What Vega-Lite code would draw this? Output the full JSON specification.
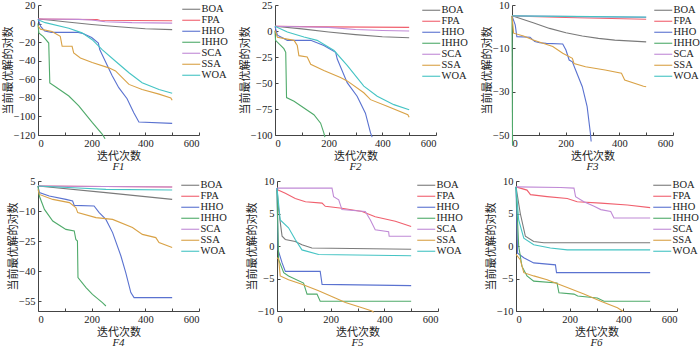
{
  "$schema": "https://vega.github.io/schema/vega-lite/v6.json",
  "padding": {"left": 2, "top": 0, "right": 0, "bottom": 0},
  "background": "white",
  "spacing": 4,
  "resolve": {"scale": {"color": "independent"}, "legend": {"color": "independent"}},
  "config": {
    "view": {"stroke": null},
    "axis": {"grid": false, "labelFont": "Liberation Serif", "labelFontSize": 10.5, "labelColor": "#222", "titleFont": "Noto Sans CJK SC", "titleFontSize": 11, "titleFontWeight": "normal", "titleColor": "#222", "domainColor": "#444", "tickColor": "#444", "tickSize": -3, "labelPadding": 6, "titlePadding": 2},
    "axisY": {"titlePadding": 0},
    "axisX": {"labelExpr": "datum.value % 200 == 0 ? datum.label : ''"},
    "legend": {"labelFont": "Liberation Serif", "labelFontSize": 10.5, "labelColor": "#222", "symbolType": "M-2.25,0H2.25", "symbolSize": 64, "symbolStrokeWidth": 1.3, "rowPadding": -2.6, "labelOffset": 5, "padding": 0, "title": null},
    "line": {"strokeWidth": 1.1, "clip": true},
    "title": {"font": "Liberation Serif", "fontStyle": "italic", "fontSize": 11, "fontWeight": "normal", "color": "#222", "orient": "bottom", "offset": -1}
  },
  "datasets": {
    "F1": [
      {"a":"BOA","x":0,"y":5},{"a":"BOA","x":50,"y":3.5},{"a":"BOA","x":100,"y":2},{"a":"BOA","x":200,"y":-1},{"a":"BOA","x":300,"y":-3.5},{"a":"BOA","x":400,"y":-5.5},{"a":"BOA","x":500,"y":-6.5},
      {"a":"FPA","x":0,"y":5},{"a":"FPA","x":100,"y":4.6},{"a":"FPA","x":220,"y":4.2},{"a":"FPA","x":230,"y":3.5},{"a":"FPA","x":500,"y":3},
      {"a":"SCA","x":0,"y":5},{"a":"SCA","x":150,"y":4.5},{"a":"SCA","x":200,"y":3.8},{"a":"SCA","x":250,"y":2},{"a":"SCA","x":350,"y":1},{"a":"SCA","x":500,"y":0.5},
      {"a":"HHO","x":0,"y":5},{"a":"HHO","x":10,"y":-3},{"a":"HHO","x":25,"y":-8},{"a":"HHO","x":50,"y":-9.5},{"a":"HHO","x":150,"y":-9.5},{"a":"HHO","x":170,"y":-11},{"a":"HHO","x":200,"y":-15},{"a":"HHO","x":225,"y":-21},{"a":"HHO","x":230,"y":-28},{"a":"HHO","x":276,"y":-56},{"a":"HHO","x":301,"y":-69},{"a":"HHO","x":332,"y":-81},{"a":"HHO","x":357,"y":-96},{"a":"HHO","x":376,"y":-106},{"a":"HHO","x":500,"y":-107.5},
      {"a":"IHHO","x":0,"y":0},{"a":"IHHO","x":3,"y":-10},{"a":"IHHO","x":20,"y":-14},{"a":"IHHO","x":40,"y":-21},{"a":"IHHO","x":44,"y":-64},{"a":"IHHO","x":65,"y":-68},{"a":"IHHO","x":115,"y":-78},{"a":"IHHO","x":152,"y":-88.6},{"a":"IHHO","x":177,"y":-97.6},{"a":"IHHO","x":202,"y":-106.5},{"a":"IHHO","x":239,"y":-119},{"a":"IHHO","x":250,"y":-124},
      {"a":"SSA","x":0,"y":-2.4},{"a":"SSA","x":9,"y":-6},{"a":"SSA","x":52,"y":-8.5},{"a":"SSA","x":83,"y":-13.8},{"a":"SSA","x":90,"y":-24.5},{"a":"SSA","x":127,"y":-24.5},{"a":"SSA","x":133,"y":-31.6},{"a":"SSA","x":158,"y":-37},{"a":"SSA","x":202,"y":-42},{"a":"SSA","x":264,"y":-47.7},{"a":"SSA","x":289,"y":-51},{"a":"SSA","x":339,"y":-65.5},{"a":"SSA","x":388,"y":-71},{"a":"SSA","x":451,"y":-76},{"a":"SSA","x":495,"y":-80},{"a":"SSA","x":500,"y":-82.5},
      {"a":"WOA","x":0,"y":4},{"a":"WOA","x":27,"y":1},{"a":"WOA","x":115,"y":-5},{"a":"WOA","x":164,"y":-10},{"a":"WOA","x":202,"y":-17.4},{"a":"WOA","x":239,"y":-28},{"a":"WOA","x":289,"y":-40.6},{"a":"WOA","x":339,"y":-53},{"a":"WOA","x":388,"y":-63.7},{"a":"WOA","x":451,"y":-71},{"a":"WOA","x":500,"y":-75}
    ],
    "F2": [
      {"a":"BOA","x":0,"y":4.5},{"a":"BOA","x":100,"y":2},{"a":"BOA","x":200,"y":-1},{"a":"BOA","x":300,"y":-3.5},{"a":"BOA","x":400,"y":-5.5},{"a":"BOA","x":500,"y":-6.5},
      {"a":"FPA","x":0,"y":4.5},{"a":"FPA","x":200,"y":4},{"a":"FPA","x":500,"y":3.5},
      {"a":"SCA","x":0,"y":4.5},{"a":"SCA","x":200,"y":3.5},{"a":"SCA","x":300,"y":1.5},{"a":"SCA","x":400,"y":0.5},{"a":"SCA","x":500,"y":0},
      {"a":"HHO","x":0,"y":4.5},{"a":"HHO","x":9,"y":-4},{"a":"HHO","x":46,"y":-9},{"a":"HHO","x":133,"y":-9},{"a":"HHO","x":182,"y":-14},{"a":"HHO","x":226,"y":-20.5},{"a":"HHO","x":232,"y":-27},{"a":"HHO","x":269,"y":-49.7},{"a":"HHO","x":306,"y":-62.7},{"a":"HHO","x":337,"y":-79},{"a":"HHO","x":356,"y":-98},{"a":"HHO","x":362,"y":-102},
      {"a":"IHHO","x":0,"y":0},{"a":"IHHO","x":2,"y":-9},{"a":"IHHO","x":33,"y":-17},{"a":"IHHO","x":40,"y":-20.5},{"a":"IHHO","x":43,"y":-64},{"a":"IHHO","x":71,"y":-67.5},{"a":"IHHO","x":108,"y":-74},{"a":"IHHO","x":145,"y":-80.5},{"a":"IHHO","x":170,"y":-88.6},{"a":"IHHO","x":182,"y":-98},{"a":"IHHO","x":186,"y":-102},
      {"a":"SSA","x":0,"y":0.6},{"a":"SSA","x":9,"y":-6},{"a":"SSA","x":71,"y":-9},{"a":"SSA","x":83,"y":-14},{"a":"SSA","x":89,"y":-23.7},{"a":"SSA","x":120,"y":-25},{"a":"SSA","x":133,"y":-32},{"a":"SSA","x":182,"y":-38},{"a":"SSA","x":244,"y":-44.8},{"a":"SSA","x":269,"y":-48},{"a":"SSA","x":331,"y":-59.4},{"a":"SSA","x":356,"y":-66},{"a":"SSA","x":418,"y":-72.4},{"a":"SSA","x":495,"y":-80.5},{"a":"SSA","x":500,"y":-83},
      {"a":"WOA","x":0,"y":4.5},{"a":"WOA","x":46,"y":-1},{"a":"WOA","x":108,"y":-5.8},{"a":"WOA","x":157,"y":-9},{"a":"WOA","x":220,"y":-18.8},{"a":"WOA","x":269,"y":-33},{"a":"WOA","x":331,"y":-53},{"a":"WOA","x":381,"y":-62.7},{"a":"WOA","x":443,"y":-70.8},{"a":"WOA","x":500,"y":-75.8}
    ],
    "F3": [
      {"a":"BOA","x":0,"y":5},{"a":"BOA","x":79,"y":1.8},{"a":"BOA","x":140,"y":-0.8},{"a":"BOA","x":201,"y":-2.8},{"a":"BOA","x":262,"y":-4.3},{"a":"BOA","x":322,"y":-5.4},{"a":"BOA","x":383,"y":-6.2},{"a":"BOA","x":500,"y":-7},
      {"a":"FPA","x":0,"y":5},{"a":"FPA","x":200,"y":4.2},{"a":"FPA","x":500,"y":3.4},
      {"a":"SCA","x":0,"y":5},{"a":"SCA","x":500,"y":4.3},
      {"a":"WOA","x":0,"y":5},{"a":"WOA","x":500,"y":4.4},
      {"a":"IHHO","x":0,"y":5},{"a":"IHHO","x":2,"y":-55},
      {"a":"HHO","x":0,"y":5},{"a":"HHO","x":12,"y":0.8},{"a":"HHO","x":18,"y":-4.6},{"a":"HHO","x":67,"y":-4.9},{"a":"HHO","x":85,"y":-6.9},{"a":"HHO","x":103,"y":-7.4},{"a":"HHO","x":128,"y":-7.7},{"a":"HHO","x":189,"y":-8},{"a":"HHO","x":201,"y":-10.8},{"a":"HHO","x":213,"y":-15.4},{"a":"HHO","x":225,"y":-16.2},{"a":"HHO","x":237,"y":-20},{"a":"HHO","x":262,"y":-27.7},{"a":"HHO","x":280,"y":-36.9},{"a":"HHO","x":292,"y":-49},{"a":"HHO","x":295,"y":-53},
      {"a":"SSA","x":0,"y":5},{"a":"SSA","x":6,"y":-3},{"a":"SSA","x":43,"y":-4.3},{"a":"SSA","x":79,"y":-6.2},{"a":"SSA","x":152,"y":-9.2},{"a":"SSA","x":189,"y":-12.3},{"a":"SSA","x":225,"y":-14.6},{"a":"SSA","x":231,"y":-17},{"a":"SSA","x":274,"y":-18.5},{"a":"SSA","x":347,"y":-20},{"a":"SSA","x":408,"y":-21.5},{"a":"SSA","x":420,"y":-24.6},{"a":"SSA","x":490,"y":-27.5},{"a":"SSA","x":500,"y":-27.7}
    ],
    "F4": [
      {"a":"BOA","x":0,"y":2.5},{"a":"BOA","x":253,"y":-0.8},{"a":"BOA","x":500,"y":-4.2},
      {"a":"FPA","x":0,"y":2.5},{"a":"FPA","x":500,"y":2},
      {"a":"SCA","x":0,"y":2.5},{"a":"SCA","x":500,"y":2},
      {"a":"WOA","x":0,"y":2.5},{"a":"WOA","x":150,"y":1.5},{"a":"WOA","x":253,"y":0.8},{"a":"WOA","x":500,"y":0.5},
      {"a":"HHO","x":0,"y":2.5},{"a":"HHO","x":5,"y":-0.8},{"a":"HHO","x":42,"y":-2.5},{"a":"HHO","x":104,"y":-4.2},{"a":"HHO","x":129,"y":-5},{"a":"HHO","x":135,"y":-7.2},{"a":"HHO","x":209,"y":-7.5},{"a":"HHO","x":228,"y":-10.8},{"a":"HHO","x":253,"y":-14.2},{"a":"HHO","x":278,"y":-20.8},{"a":"HHO","x":309,"y":-32.5},{"a":"HHO","x":327,"y":-40.8},{"a":"HHO","x":346,"y":-50.8},{"a":"HHO","x":358,"y":-53.3},{"a":"HHO","x":500,"y":-53.3},
      {"a":"IHHO","x":0,"y":2.5},{"a":"IHHO","x":5,"y":-2.5},{"a":"IHHO","x":24,"y":-9.2},{"a":"IHHO","x":55,"y":-15},{"a":"IHHO","x":104,"y":-19.2},{"a":"IHHO","x":135,"y":-20},{"a":"IHHO","x":141,"y":-24.2},{"a":"IHHO","x":147,"y":-25},{"a":"IHHO","x":149,"y":-43.3},{"a":"IHHO","x":179,"y":-48.3},{"a":"IHHO","x":203,"y":-51.7},{"a":"IHHO","x":240,"y":-55.8},{"a":"IHHO","x":253,"y":-57.5},
      {"a":"SSA","x":0,"y":0.8},{"a":"SSA","x":5,"y":-1.7},{"a":"SSA","x":55,"y":-4.2},{"a":"SSA","x":117,"y":-5.8},{"a":"SSA","x":141,"y":-8.3},{"a":"SSA","x":148,"y":-10.8},{"a":"SSA","x":216,"y":-13.3},{"a":"SSA","x":278,"y":-14.2},{"a":"SSA","x":352,"y":-18.3},{"a":"SSA","x":389,"y":-21.7},{"a":"SSA","x":439,"y":-23.3},{"a":"SSA","x":451,"y":-25.8},{"a":"SSA","x":500,"y":-28.3}
    ],
    "F5": [
      {"a":"BOA","x":0,"y":8.9},{"a":"BOA","x":6,"y":5.6},{"a":"BOA","x":19,"y":1.5},{"a":"BOA","x":31,"y":1},{"a":"BOA","x":68,"y":0.7},{"a":"BOA","x":93,"y":0.2},{"a":"BOA","x":130,"y":-0.3},{"a":"BOA","x":500,"y":-0.5},
      {"a":"FPA","x":0,"y":8.7},{"a":"FPA","x":31,"y":8.1},{"a":"FPA","x":68,"y":7.3},{"a":"FPA","x":106,"y":6.8},{"a":"FPA","x":168,"y":6.6},{"a":"FPA","x":180,"y":6.1},{"a":"FPA","x":242,"y":5.8},{"a":"FPA","x":317,"y":5.3},{"a":"FPA","x":366,"y":4.5},{"a":"FPA","x":441,"y":3.8},{"a":"FPA","x":500,"y":3},
      {"a":"SCA","x":0,"y":8.9},{"a":"SCA","x":205,"y":8.9},{"a":"SCA","x":211,"y":7.6},{"a":"SCA","x":230,"y":7.1},{"a":"SCA","x":242,"y":5.6},{"a":"SCA","x":329,"y":5.3},{"a":"SCA","x":348,"y":4},{"a":"SCA","x":366,"y":2.5},{"a":"SCA","x":416,"y":2.2},{"a":"SCA","x":418,"y":1.5},{"a":"SCA","x":500,"y":1.5},
      {"a":"HHO","x":0,"y":8.9},{"a":"HHO","x":4,"y":-0.6},{"a":"HHO","x":19,"y":-2.6},{"a":"HHO","x":31,"y":-3.9},{"a":"HHO","x":161,"y":-3.9},{"a":"HHO","x":168,"y":-5.9},{"a":"HHO","x":500,"y":-6.1},
      {"a":"IHHO","x":0,"y":8.6},{"a":"IHHO","x":6,"y":-2.1},{"a":"IHHO","x":25,"y":-4.1},{"a":"IHHO","x":43,"y":-4.6},{"a":"IHHO","x":99,"y":-5.7},{"a":"IHHO","x":112,"y":-7.4},{"a":"IHHO","x":149,"y":-7.4},{"a":"IHHO","x":161,"y":-8.5},{"a":"IHHO","x":500,"y":-8.5},
      {"a":"SSA","x":0,"y":-1.8},{"a":"SSA","x":6,"y":-2},{"a":"SSA","x":12,"y":-4.6},{"a":"SSA","x":43,"y":-5.2},{"a":"SSA","x":93,"y":-5.9},{"a":"SSA","x":155,"y":-6.9},{"a":"SSA","x":217,"y":-8},{"a":"SSA","x":255,"y":-8.7},{"a":"SSA","x":317,"y":-9.5},{"a":"SSA","x":354,"y":-10},{"a":"SSA","x":360,"y":-10.2},
      {"a":"WOA","x":0,"y":8.9},{"a":"WOA","x":12,"y":4},{"a":"WOA","x":43,"y":2.8},{"a":"WOA","x":68,"y":1},{"a":"WOA","x":93,"y":-0.6},{"a":"WOA","x":155,"y":-1.3},{"a":"WOA","x":500,"y":-1.5}
    ],
    "F6": [
      {"a":"BOA","x":0,"y":9.1},{"a":"BOA","x":16,"y":5},{"a":"BOA","x":35,"y":1.5},{"a":"BOA","x":66,"y":0.7},{"a":"BOA","x":104,"y":0.5},{"a":"BOA","x":500,"y":0.5},
      {"a":"FPA","x":0,"y":9.1},{"a":"FPA","x":41,"y":8.6},{"a":"FPA","x":54,"y":7.9},{"a":"FPA","x":116,"y":7.6},{"a":"FPA","x":191,"y":7.3},{"a":"FPA","x":228,"y":6.8},{"a":"FPA","x":316,"y":6.6},{"a":"FPA","x":415,"y":6.3},{"a":"FPA","x":500,"y":5.9},
      {"a":"SCA","x":0,"y":9.1},{"a":"SCA","x":166,"y":9},{"a":"SCA","x":216,"y":8.9},{"a":"SCA","x":222,"y":7.6},{"a":"SCA","x":253,"y":6.8},{"a":"SCA","x":291,"y":6.1},{"a":"SCA","x":316,"y":5.6},{"a":"SCA","x":353,"y":5.3},{"a":"SCA","x":365,"y":4.3},{"a":"SCA","x":500,"y":4.3},
      {"a":"HHO","x":0,"y":9.1},{"a":"HHO","x":6,"y":-1.1},{"a":"HHO","x":29,"y":-1.8},{"a":"HHO","x":66,"y":-2.6},{"a":"HHO","x":147,"y":-2.9},{"a":"HHO","x":151,"y":-4.1},{"a":"HHO","x":500,"y":-4.1},
      {"a":"IHHO","x":0,"y":9.1},{"a":"IHHO","x":10,"y":0},{"a":"IHHO","x":22,"y":-3.1},{"a":"IHHO","x":41,"y":-4.6},{"a":"IHHO","x":66,"y":-5.4},{"a":"IHHO","x":153,"y":-5.7},{"a":"IHHO","x":160,"y":-7.2},{"a":"IHHO","x":216,"y":-7.4},{"a":"IHHO","x":230,"y":-7.7},{"a":"IHHO","x":303,"y":-8},{"a":"IHHO","x":328,"y":-8.5},{"a":"IHHO","x":500,"y":-8.5},
      {"a":"SSA","x":0,"y":-1.3},{"a":"SSA","x":16,"y":-2.1},{"a":"SSA","x":29,"y":-4.1},{"a":"SSA","x":66,"y":-4.6},{"a":"SSA","x":116,"y":-5.2},{"a":"SSA","x":191,"y":-6.4},{"a":"SSA","x":253,"y":-7.4},{"a":"SSA","x":316,"y":-8.5},{"a":"SSA","x":378,"y":-9.5},{"a":"SSA","x":397,"y":-10},{"a":"SSA","x":400,"y":-10.1},
      {"a":"WOA","x":0,"y":9.1},{"a":"WOA","x":10,"y":4},{"a":"WOA","x":29,"y":1.2},{"a":"WOA","x":66,"y":0.2},{"a":"WOA","x":128,"y":-0.3},{"a":"WOA","x":191,"y":-0.6},{"a":"WOA","x":500,"y":-0.6}
    ]
  },
  "vconcat": [
    {
      "bounds": "flush",
      "spacing": 76,
      "resolve": {"scale": {"color": "independent"}, "legend": {"color": "independent"}},
      "hconcat": [
        {
          "width": 161, "height": 130,
          "data": {"name": "F1"},
          "title": {"text": "F1"},
          "mark": {"type": "line"},
          "encoding": {
            "x": {"field": "x", "type": "quantitative", "scale": {"domain": [0, 600]}, "axis": {"values": [0, 100, 200, 300, 400, 500, 600], "title": "迭代次数"}},
            "y": {"field": "y", "type": "quantitative", "scale": {"domain": [-120, 20]}, "axis": {"values": [20, 0, -20, -40, -60, -80, -100, -120], "title": "当前最优解的对数"}},
            "color": {"field": "a", "type": "nominal", "scale": {"domain": ["BOA", "FPA", "HHO", "IHHO", "SCA", "SSA", "WOA"], "range": ["#7a7a7a", "#f0606e", "#5a72d0", "#4faa6a", "#c08ad6", "#d9a246", "#45c4c4"]}, "legend": {"orient": "none", "legendX": 148, "legendY": -1}},
            "order": {"field": "x", "type": "quantitative"}
          }
        },
        {
          "width": 161, "height": 130,
          "data": {"name": "F2"},
          "title": {"text": "F2"},
          "mark": {"type": "line"},
          "encoding": {
            "x": {"field": "x", "type": "quantitative", "scale": {"domain": [0, 600]}, "axis": {"values": [0, 100, 200, 300, 400, 500, 600], "title": "迭代次数"}},
            "y": {"field": "y", "type": "quantitative", "scale": {"domain": [-100, 25]}, "axis": {"values": [25, 0, -25, -50, -75, -100], "title": "当前最优解的对数"}},
            "color": {"field": "a", "type": "nominal", "scale": {"domain": ["BOA", "FPA", "HHO", "IHHO", "SCA", "SSA", "WOA"], "range": ["#7a7a7a", "#f0606e", "#5a72d0", "#4faa6a", "#c08ad6", "#d9a246", "#45c4c4"]}, "legend": {"orient": "none", "legendX": 151, "legendY": 0}},
            "order": {"field": "x", "type": "quantitative"}
          }
        },
        {
          "width": 161, "height": 130,
          "data": {"name": "F3"},
          "title": {"text": "F3"},
          "mark": {"type": "line"},
          "encoding": {
            "x": {"field": "x", "type": "quantitative", "scale": {"domain": [0, 600]}, "axis": {"values": [0, 100, 200, 300, 400, 500, 600], "title": "迭代次数"}},
            "y": {"field": "y", "type": "quantitative", "scale": {"domain": [-50, 10]}, "axis": {"values": [10, -10, -30, -50], "title": "当前最优解的对数"}},
            "color": {"field": "a", "type": "nominal", "scale": {"domain": ["BOA", "FPA", "HHO", "IHHO", "SCA", "SSA", "WOA"], "range": ["#7a7a7a", "#f0606e", "#5a72d0", "#4faa6a", "#c08ad6", "#d9a246", "#45c4c4"]}, "legend": {"orient": "none", "legendX": 146, "legendY": 0}},
            "order": {"field": "x", "type": "quantitative"}
          }
        }
      ]
    },
    {
      "bounds": "flush",
      "spacing": 78,
      "resolve": {"scale": {"color": "independent"}, "legend": {"color": "independent"}},
      "hconcat": [
        {
          "width": 161, "height": 130,
          "data": {"name": "F4"},
          "title": {"text": "F4"},
          "mark": {"type": "line"},
          "encoding": {
            "x": {"field": "x", "type": "quantitative", "scale": {"domain": [0, 600]}, "axis": {"values": [0, 100, 200, 300, 400, 500, 600], "title": "迭代次数"}},
            "y": {"field": "y", "type": "quantitative", "scale": {"domain": [-60, 5]}, "axis": {"values": [5, -10, -25, -40, -55], "title": "当前最优解的对数"}},
            "color": {"field": "a", "type": "nominal", "scale": {"domain": ["BOA", "FPA", "HHO", "IHHO", "SCA", "SSA", "WOA"], "range": ["#7a7a7a", "#f0606e", "#5a72d0", "#4faa6a", "#c08ad6", "#d9a246", "#45c4c4"]}, "legend": {"orient": "none", "legendX": 147, "legendY": -1}},
            "order": {"field": "x", "type": "quantitative"}
          }
        },
        {
          "width": 161, "height": 130,
          "data": {"name": "F5"},
          "title": {"text": "F5"},
          "mark": {"type": "line"},
          "encoding": {
            "x": {"field": "x", "type": "quantitative", "scale": {"domain": [0, 600]}, "axis": {"values": [0, 100, 200, 300, 400, 500, 600], "title": "迭代次数"}},
            "y": {"field": "y", "type": "quantitative", "scale": {"domain": [-10, 10]}, "axis": {"values": [10, 5, 0, -5, -10], "title": "当前最优解的对数"}},
            "color": {"field": "a", "type": "nominal", "scale": {"domain": ["BOA", "FPA", "HHO", "IHHO", "SCA", "SSA", "WOA"], "range": ["#7a7a7a", "#f0606e", "#5a72d0", "#4faa6a", "#c08ad6", "#d9a246", "#45c4c4"]}, "legend": {"orient": "none", "legendX": 144, "legendY": -1}},
            "order": {"field": "x", "type": "quantitative"}
          }
        },
        {
          "width": 161, "height": 130,
          "data": {"name": "F6"},
          "title": {"text": "F6"},
          "mark": {"type": "line"},
          "encoding": {
            "x": {"field": "x", "type": "quantitative", "scale": {"domain": [0, 600]}, "axis": {"values": [0, 100, 200, 300, 400, 500, 600], "title": "迭代次数"}},
            "y": {"field": "y", "type": "quantitative", "scale": {"domain": [-10, 10]}, "axis": {"values": [10, 5, 0, -5, -10], "title": "当前最优解的对数"}},
            "color": {"field": "a", "type": "nominal", "scale": {"domain": ["BOA", "FPA", "HHO", "IHHO", "SCA", "SSA", "WOA"], "range": ["#7a7a7a", "#f0606e", "#5a72d0", "#4faa6a", "#c08ad6", "#d9a246", "#45c4c4"]}, "legend": {"orient": "none", "legendX": 141, "legendY": -1}},
            "order": {"field": "x", "type": "quantitative"}
          }
        }
      ]
    }
  ]
}
